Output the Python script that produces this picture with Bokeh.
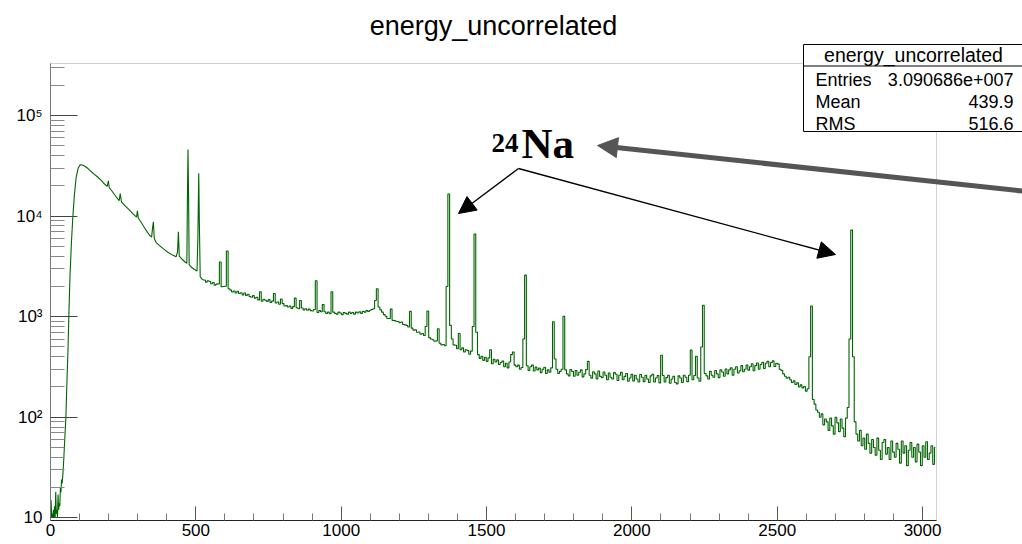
import math
from bokeh.plotting import figure
from bokeh.models import (Range1d, FixedTicker, Label, BoxAnnotation, Arrow,
                          NormalHead, ColumnDataSource)
from bokeh.embed import file_html
from bokeh.resources import INLINE

# ---------------- data ----------------
# low-energy part: (energy keV, counts) pairs
rise = [(0, 10), (2, 15), (4, 10), (6, 11), (8, 10), (10, 12), (12, 10), (14, 13), (16, 10),
        (18, 18), (20, 11), (22, 12), (24, 10), (26, 17), (28, 12), (30, 14), (32, 13),
        (34, 20), (36, 18), (38, 24), (40, 22), (43, 28), (46, 40), (49, 60), (53, 100),
        (56, 200), (60, 450), (63, 1000), (67, 2500), (72, 5500), (77, 10000), (82, 16000),
        (88, 24000), (95, 30000), (102, 32500)]

compton_low = [(110, 32300), (120, 31200), (130, 29600), (140, 27800), (150, 26200),
               (160, 24800), (174, 22800), (185, 21000), (195, 19800), (199, 22500),
               (202, 19300), (212, 17700), (225, 15700), (236, 14300), (240, 16800),
               (244, 13900), (255, 12800), (270, 11600), (285, 10500), (296, 9800),
               (299, 11300), (302, 9600), (315, 8400), (328, 7300), (340, 6500), (348, 6200),
               (351, 7600), (354, 8800), (357, 6000), (363, 5500), (375, 5100), (390, 4700),
               (405, 4350), (420, 4100), (432, 3950), (437, 4400), (440, 7000), (443, 4000),
               (452, 3750), (463, 3500), (469, 3400), (471, 14000), (473, 46000),
               (475, 16000), (477, 3300), (485, 3100), (495, 2950), (504, 2850), (507, 6000),
               (510, 26700), (512, 9000), (515, 2500), (522, 2350)]

# higher energies: histogram bins of 6 keV starting at 530 keV (12 bins = 72 keV per row)
grid_start_keV = 530
grid_bin_keV = 6
grid_counts = [
    2310, 2210, 2280, 2240, 2130, 2190, 2060, 2110, 2120, 3500, 1990, 2000,   # 530
    2010, 4500, 1900, 1840, 1760, 1800, 1720, 1790, 1700, 1730, 1650, 1720,   # 602
    1630, 1670, 1590, 1560, 1620, 1530, 1560, 1470, 1770, 1430, 1490, 1460,   # 674
    1420, 1480, 1390, 1430, 1700, 1370, 1400, 1330, 1500, 1350, 1280, 1290,   # 746
    1250, 1280, 1210, 1260, 1530, 1230, 1200, 1450, 1220, 1170, 1200, 1160,   # 818
    1190, 1150, 1140, 1180, 2280, 1100, 1150, 1120, 1320, 1120, 1080, 1110,   # 890
    1070, 1770, 1110, 1080, 1060, 1110, 1090, 1050, 1100, 1080, 1060, 1110,   # 962
    1080, 1100, 1060, 1110, 1090, 1120, 1080, 1130, 1110, 1150, 1130, 1160,   # 1034
    1180, 1200, 1450, 1900, 1250, 1170, 1110, 1050, 1010, 960, 960, 1190,     # 1106
    920, 915, 900, 895, 870, 885, 840, 830, 820, 790, 1130, 770,              # 1178
    735, 740, 700, 705, 670, 680, 650, 800, 1140, 620, 600, 590,              # 1250
    570, 575, 760, 545, 525, 530, 515, 2000, 16600, 820, 600, 525,            # 1322
    520, 480, 680, 470, 490, 445, 470, 460, 425, 455, 800, 6640,              # 1394
    700, 420, 385, 405, 368, 395, 360, 390, 470, 340, 378, 355,               # 1466
    372, 335, 350, 362, 318, 345, 310, 355, 420, 445, 330, 318,               # 1538
    330, 300, 312, 600, 2590, 325, 292, 318, 330, 288, 315, 296,              # 1610
    308, 278, 300, 314, 272, 296, 280, 310, 890, 380, 300, 272,               # 1682
    286, 300, 1010, 296, 270, 258, 298, 285, 256, 292, 262, 280,              # 1754
    296, 252, 270, 298, 360, 262, 245, 284, 270, 240, 288, 255,               # 1826
    248, 282, 262, 236, 276, 250, 240, 278, 268, 232, 262, 280,               # 1898
    236, 255, 272, 228, 246, 268, 230, 262, 240, 224, 266, 250,               # 1970
    226, 262, 240, 222, 258, 268, 224, 246, 260, 220, 414, 260,               # 2042
    224, 248, 262, 218, 240, 256, 222, 215, 258, 246, 222, 262,               # 2114
    250, 226, 262, 465, 236, 260, 404, 246, 228, 500, 1300, 272,              # 2186
    258, 240, 286, 262, 250, 292, 270, 248, 296, 282, 256, 302,               # 2258
    270, 296, 310, 262, 300, 318, 276, 290, 326, 284, 300, 330,               # 2330
    294, 318, 340, 290, 326, 346, 300, 335, 352, 305, 344, 360,               # 2402
    318, 350, 364, 320, 345, 338, 300, 292, 270, 256, 244, 250,               # 2474
    236, 222, 230, 212, 220, 200, 210, 196, 202, 182, 192, 400,               # 2546
    1280, 150, 135, 118, 112, 100, 108, 84, 96, 90, 74, 98,                   # 2618
    82, 68, 100, 88, 72, 96, 78, 64, 98, 125, 600, 7270,                      # 2690
    400, 90, 68, 58, 74, 52, 62, 48, 68, 55, 44, 60,                          # 2762
    50, 42, 62, 47, 38, 56, 60, 43, 50, 38, 58, 45,                           # 2834
    40, 55, 48, 35, 58, 44, 52, 33, 47, 56, 40, 50,                           # 2906
    36, 54, 45, 33, 52, 40, 57, 38, 44, 52, 34, 50,                           # 2978
]

x_major_ticks = [0, 500, 1000, 1500, 2000, 2500, 3000]
x_minor_ticks = [100, 200, 300, 400, 600, 700, 800, 900, 1100, 1200, 1300, 1400, 1600, 1700,
                 1800, 1900, 2100, 2200, 2300, 2400, 2600, 2700, 2800, 2900]
y_major_ticks = [10, 100, 1000, 10000, 100000]
y_minor_ticks = [20, 30, 40, 50, 60, 70, 80, 90, 200, 300, 400, 500, 600, 700, 800, 900,
                 2000, 3000, 4000, 5000, 6000, 7000, 8000, 9000, 20000, 30000, 40000, 50000,
                 60000, 70000, 80000, 90000, 200000, 300000]
y_tick_labels = {10: "10", 100: "10\u00b2", 1000: "10\u00b3", 10000: "10\u2074",
                 100000: "10\u2075"}

hist_title = "energy_uncorrelated"
stats_rows = [("Entries", "3.090686e+007"), ("Mean", "439.9"), ("RMS", "516.6")]

# ---------------- build ----------------
grid_energy = [grid_start_keV + grid_bin_keV * i for i in range(len(grid_counts))]
low_pts = rise + compton_low + [(grid_energy[0], grid_counts[0])]
low_src = ColumnDataSource(dict(energy=[e for e, n in low_pts], counts=[n for e, n in low_pts]))
grid_src = ColumnDataSource(dict(energy=grid_energy, counts=grid_counts))

W, H = 1022, 544
FL, FT, FR, FB = 50, 63, 936, 520          # histogram frame in canvas pixels
E0, E1 = 0, 3048                           # x extent of the histogram frame
Y0, Y1 = 9.4, 3.3e5                        # y extent of the histogram frame

kx = (FR - FL) / (E1 - E0)
ky = (FB - FT) / (math.log10(Y1) - math.log10(Y0))
x_range = Range1d(E0 - FL / kx, E1 + (W - FR) / kx)
y_range = Range1d(10 ** (math.log10(Y0) - (H - FB) / ky), 10 ** (math.log10(Y1) + FT / ky))


def sx(px):
    return px


def sy(py):
    return H - py


p = figure(width=W, height=H, title=None, y_axis_type="log", x_range=x_range,
           y_range=y_range, output_backend="svg", toolbar_location=None, min_border=0)
p.background_fill_color = "white"
p.border_fill_color = "white"
p.grid.visible = False
p.outline_line_color = None

# frame box (top / right edges visible)
p.add_layout(BoxAnnotation(left=E0, right=E1, bottom=Y0, top=Y1, fill_alpha=0,
                           line_color="#666666", line_width=1, level="underlay"))

p.line("energy", "counts", source=low_src, line_color="#006400", line_width=1.1)
p.step("energy", "counts", source=grid_src, mode="center", line_color="#006400",
       line_width=1.1)

xa = p.xaxis[0]
xa.fixed_location = Y0
xa.bounds = (E0, E1)
xa.ticker = FixedTicker(ticks=x_major_ticks, minor_ticks=x_minor_ticks)
xa.major_tick_in = 14
xa.major_tick_out = 0
xa.minor_tick_in = 7
xa.minor_tick_out = 0
xa.axis_line_color = "#222222"
xa.major_tick_line_color = "#555555"
xa.minor_tick_line_color = "#777777"
xa.major_label_text_font = "Liberation Sans"
xa.major_label_text_font_size = "17px"
xa.major_label_text_color = "black"
xa.major_label_standoff = 3

ya = p.yaxis[0]
ya.fixed_location = E0
ya.bounds = (Y0, Y1)
ya.ticker = FixedTicker(ticks=y_major_ticks, minor_ticks=y_minor_ticks)
ya.major_label_overrides = y_tick_labels
ya.major_tick_in = 27
ya.major_tick_out = 0
ya.minor_tick_in = 14
ya.minor_tick_out = 0
ya.axis_line_color = "#777777"
ya.major_tick_line_color = "#444444"
ya.minor_tick_line_color = "#888888"
ya.major_label_text_font = "Liberation Sans"
ya.major_label_text_font_size = "17px"
ya.major_label_text_color = "black"
ya.major_label_standoff = 8

# title
p.add_layout(Label(x=sx(493), y=sy(25), x_units="screen", y_units="screen", text=hist_title,
                   text_align="center", text_baseline="middle", text_font="Liberation Sans",
                   text_font_size="27px", text_color="black"))

# stats box
p.add_layout(BoxAnnotation(left=sx(803), right=sx(1040), top=sy(44), bottom=sy(131),
                           left_units="screen", right_units="screen", top_units="screen",
                           bottom_units="screen", fill_color="white", fill_alpha=1.0,
                           line_color="black", line_width=1, line_alpha=1.0, level="overlay"))
p.add_layout(Arrow(x_start=sx(803), y_start=sy(65.5), x_end=sx(1040), y_end=sy(65.5),
                   start_units="screen", end_units="screen", start=None, end=None,
                   line_color="black", line_width=1, level="overlay"))
p.add_layout(Label(x=sx(913), y=sy(54), x_units="screen", y_units="screen", text=hist_title,
                   text_align="center", text_baseline="middle", text_font="Liberation Sans",
                   text_font_size="19.5px", text_color="black", level="overlay"))
for i, (name, val) in enumerate(stats_rows):
    yy = sy(79 + 22 * i)
    p.add_layout(Label(x=sx(815), y=yy, x_units="screen", y_units="screen", text=name,
                       text_align="left", text_baseline="middle", text_font="Liberation Sans",
                       text_font_size="18px", text_color="black", level="overlay"))
    p.add_layout(Label(x=sx(1013), y=yy, x_units="screen", y_units="screen", text=val,
                       text_align="right", text_baseline="middle", text_font="Liberation Sans",
                       text_font_size="18px", text_color="black", level="overlay"))

# 24Na annotation
p.add_layout(Label(x=sx(491), y=sy(142), x_units="screen", y_units="screen", text="24",
                   text_align="left", text_baseline="alphabetic", text_font="Liberation Serif",
                   text_font_style="bold", text_font_size="27px", text_color="black"))
p.add_layout(Label(x=sx(521), y=sy(143), x_units="screen", y_units="screen", text="Na",
                   text_align="left", text_baseline="alphabetic", text_font="Liberation Serif",
                   text_font_style="bold", text_font_size="43px", text_color="black"))

for tx, ty in [(458, 213), (835, 254)]:
    p.add_layout(Arrow(x_start=sx(518), y_start=sy(168), x_end=sx(tx), y_end=sy(ty),
                       start_units="screen", end_units="screen", start=None,
                       end=NormalHead(size=17, fill_color="black", line_color="black",
                                      line_width=1),
                       line_color="black", line_width=1.3))

p.add_layout(Arrow(x_start=sx(1040), y_start=sy(192.5), x_end=sx(597), y_end=sy(145),
                   start_units="screen", end_units="screen", start=None,
                   end=NormalHead(size=20, fill_color="#555555", line_color="#555555",
                                  line_width=1),
                   line_color="#555555", line_width=5))

open("out.html", "w").write(file_html(p, INLINE))
